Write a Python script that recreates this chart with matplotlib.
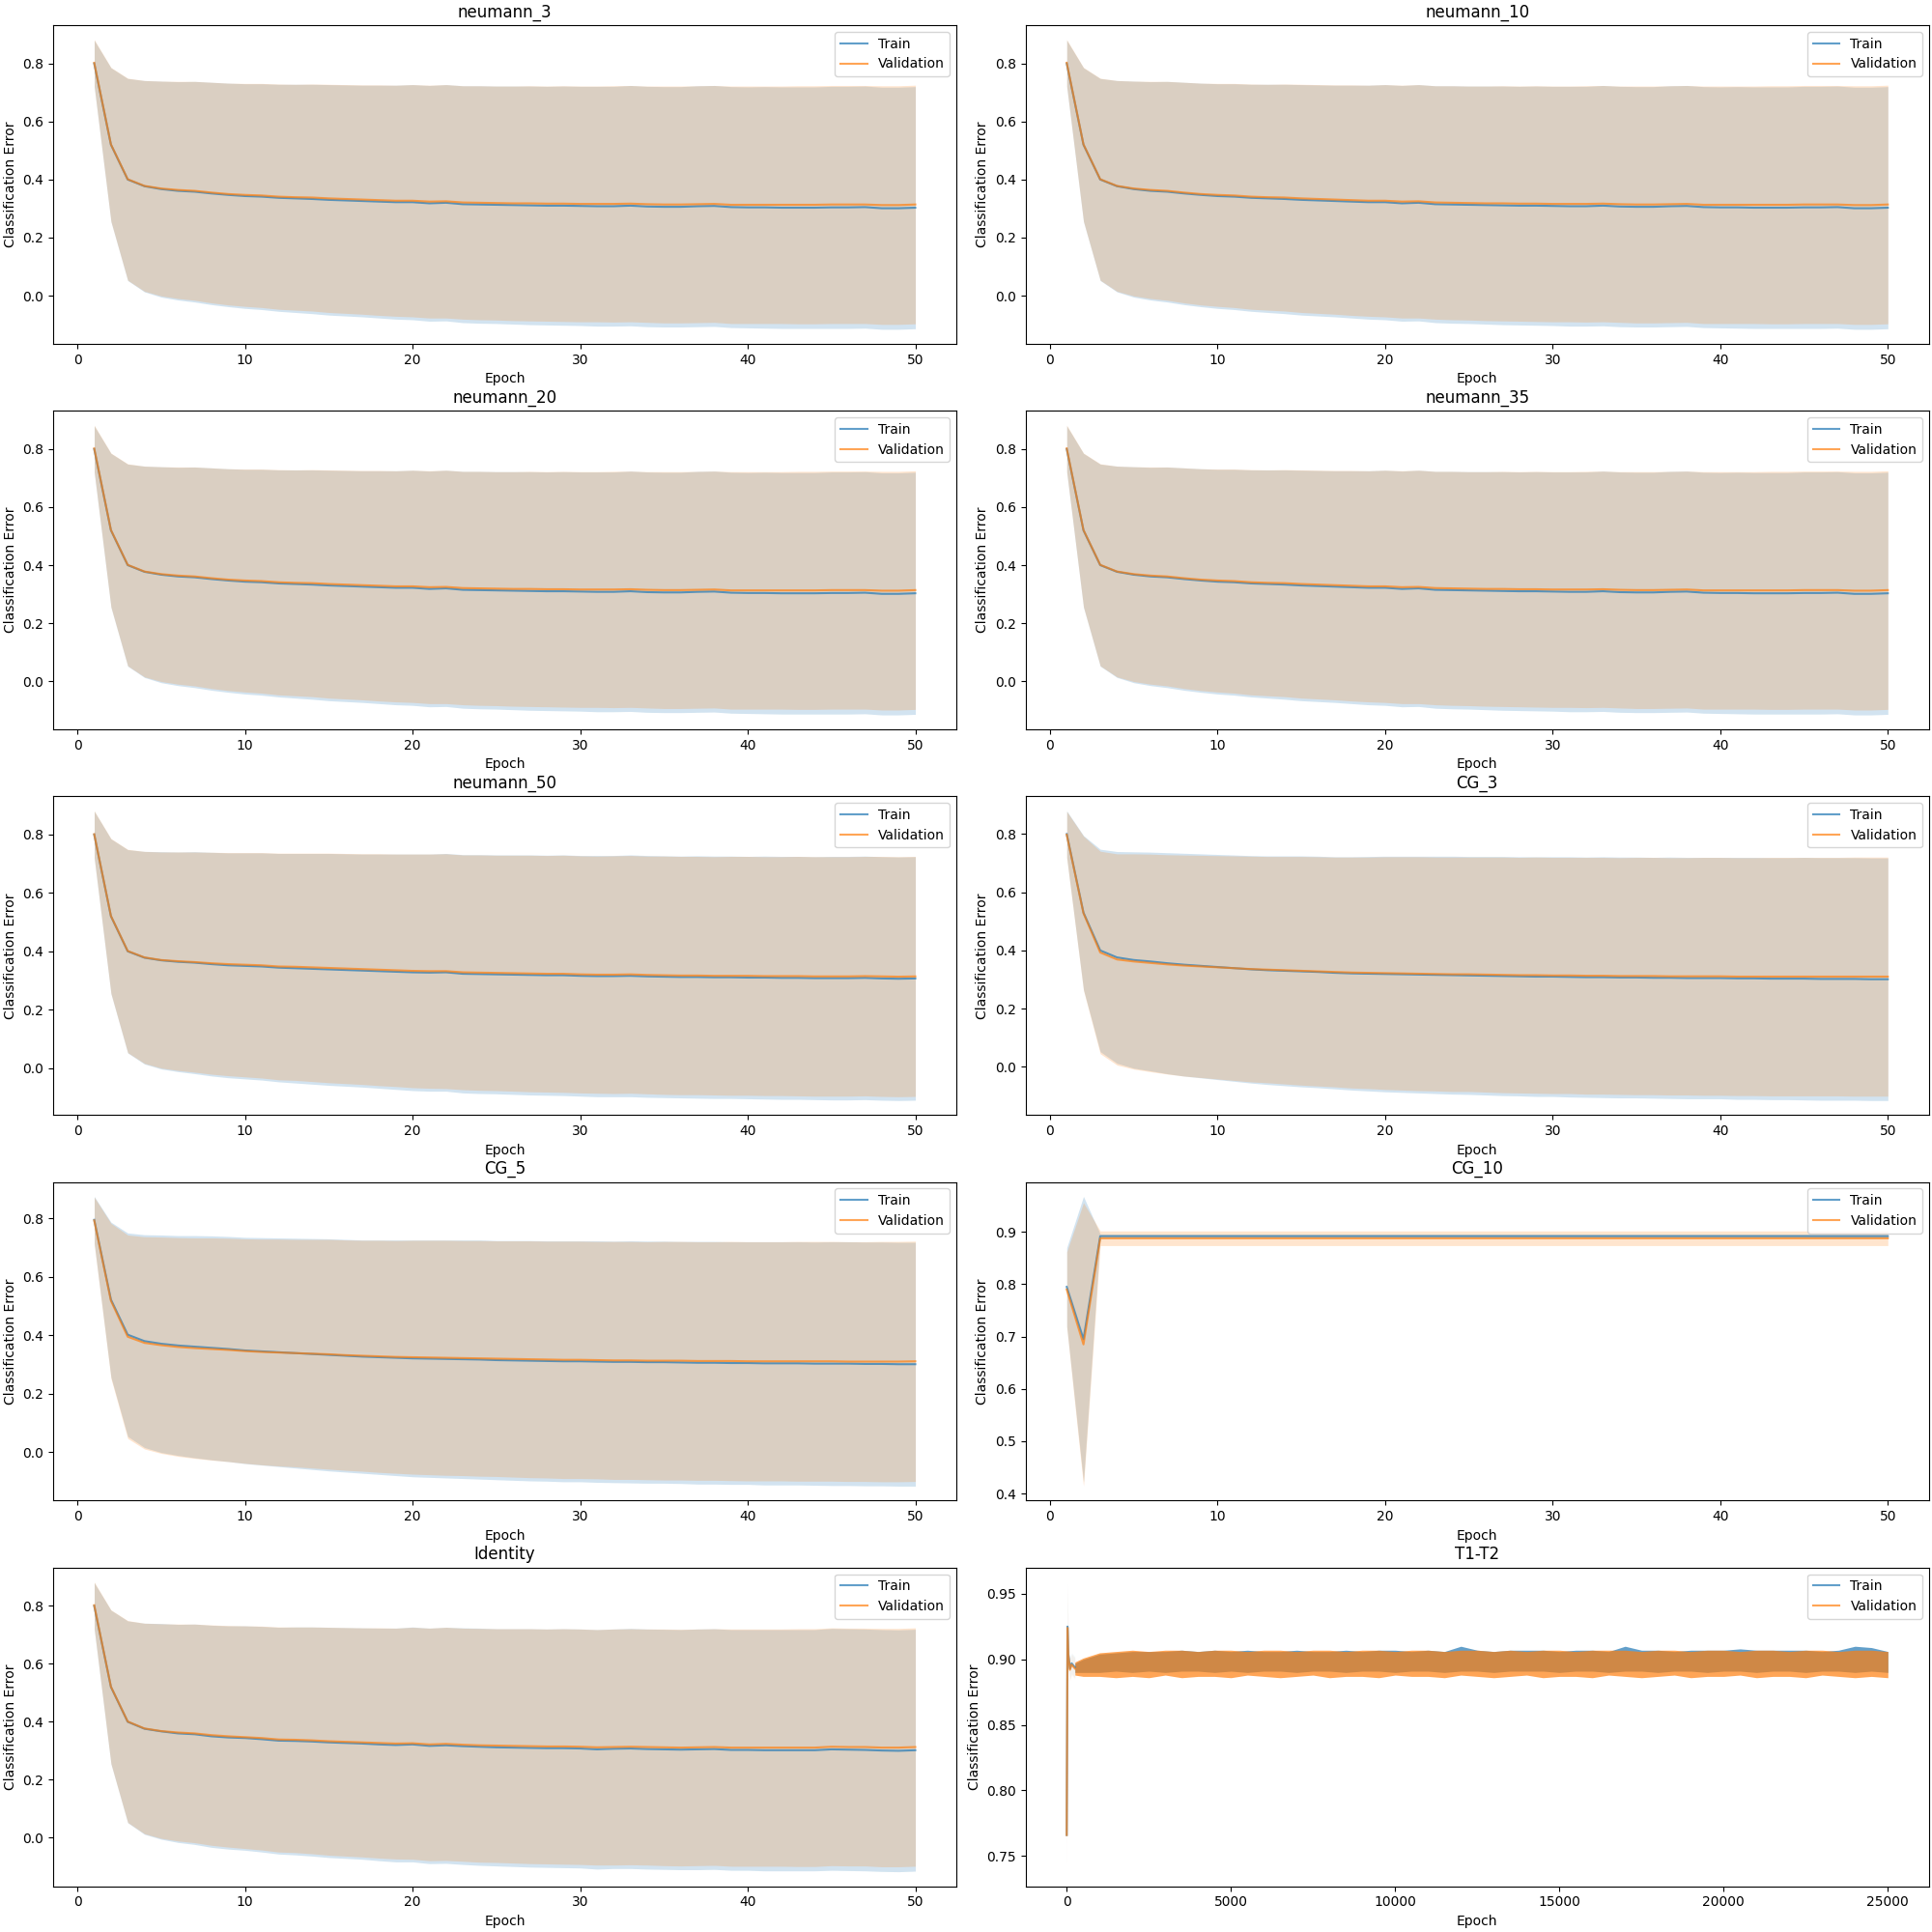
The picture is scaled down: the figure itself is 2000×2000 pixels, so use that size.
import matplotlib
matplotlib.use('Agg')
import matplotlib.pyplot as plt
import numpy as np

# epochs for the 50 epoch runs
epochs = list(range(1, 51))

# neumann_3 / neumann_10 / neumann_20 / neumann_35 look the same
neumann_train = [0.800, 0.520, 0.400, 0.377, 0.367, 0.361, 0.358, 0.352, 0.347, 0.343,
                 0.341, 0.337, 0.335, 0.333, 0.330, 0.328, 0.326, 0.324, 0.322, 0.322,
                 0.318, 0.320, 0.315, 0.314, 0.313, 0.312, 0.311, 0.310, 0.310, 0.309,
                 0.308, 0.308, 0.310, 0.307, 0.306, 0.306, 0.308, 0.309, 0.305, 0.304,
                 0.304, 0.303, 0.303, 0.303, 0.304, 0.304, 0.305, 0.301, 0.301, 0.303]
neumann_val = [0.802, 0.521, 0.401, 0.378, 0.369, 0.364, 0.361, 0.355, 0.350, 0.347,
               0.345, 0.341, 0.339, 0.338, 0.335, 0.333, 0.331, 0.329, 0.327, 0.327,
               0.324, 0.325, 0.321, 0.320, 0.319, 0.318, 0.318, 0.317, 0.317, 0.316,
               0.316, 0.316, 0.317, 0.315, 0.314, 0.314, 0.315, 0.316, 0.313, 0.313,
               0.313, 0.313, 0.313, 0.313, 0.314, 0.314, 0.314, 0.312, 0.312, 0.314]

neumann50_train = [0.800, 0.520, 0.400, 0.378, 0.369, 0.364, 0.361, 0.356, 0.352, 0.350,
                   0.348, 0.344, 0.342, 0.340, 0.338, 0.336, 0.334, 0.332, 0.330, 0.328,
                   0.327, 0.328, 0.323, 0.322, 0.321, 0.320, 0.319, 0.318, 0.318, 0.316,
                   0.315, 0.315, 0.316, 0.314, 0.313, 0.312, 0.312, 0.311, 0.311, 0.310,
                   0.310, 0.309, 0.309, 0.308, 0.308, 0.308, 0.309, 0.307, 0.306, 0.307]
neumann50_val = [0.801, 0.521, 0.401, 0.379, 0.370, 0.366, 0.363, 0.359, 0.356, 0.354,
                 0.352, 0.348, 0.347, 0.345, 0.343, 0.341, 0.339, 0.337, 0.335, 0.333,
                 0.332, 0.332, 0.328, 0.327, 0.326, 0.325, 0.324, 0.323, 0.323, 0.321,
                 0.320, 0.320, 0.321, 0.319, 0.318, 0.317, 0.317, 0.316, 0.316, 0.316,
                 0.315, 0.315, 0.315, 0.314, 0.314, 0.314, 0.315, 0.314, 0.313, 0.314]

identity_train = [0.800, 0.520, 0.400, 0.376, 0.367, 0.360, 0.357, 0.350, 0.346, 0.344,
                  0.340, 0.335, 0.334, 0.332, 0.329, 0.327, 0.325, 0.322, 0.320, 0.322,
                  0.317, 0.319, 0.316, 0.314, 0.312, 0.311, 0.310, 0.309, 0.309, 0.308,
                  0.305, 0.307, 0.308, 0.306, 0.305, 0.304, 0.305, 0.306, 0.303, 0.303,
                  0.302, 0.302, 0.302, 0.302, 0.305, 0.304, 0.303, 0.301, 0.300, 0.302]
identity_val = [0.802, 0.521, 0.401, 0.377, 0.368, 0.363, 0.360, 0.354, 0.350, 0.347,
                0.344, 0.339, 0.338, 0.336, 0.333, 0.331, 0.329, 0.327, 0.325, 0.326,
                0.322, 0.324, 0.321, 0.319, 0.318, 0.317, 0.316, 0.315, 0.315, 0.314,
                0.312, 0.313, 0.314, 0.313, 0.312, 0.311, 0.312, 0.313, 0.311, 0.311,
                0.311, 0.311, 0.311, 0.311, 0.314, 0.313, 0.313, 0.311, 0.311, 0.313]

cg3_train = [0.800, 0.530, 0.400, 0.376, 0.367, 0.362, 0.356, 0.351, 0.347, 0.343,
             0.339, 0.335, 0.332, 0.330, 0.328, 0.326, 0.323, 0.321, 0.320, 0.319,
             0.318, 0.317, 0.316, 0.315, 0.314, 0.313, 0.312, 0.311, 0.310, 0.310,
             0.309, 0.308, 0.308, 0.307, 0.307, 0.306, 0.306, 0.305, 0.305, 0.305,
             0.304, 0.304, 0.303, 0.303, 0.303, 0.302, 0.302, 0.302, 0.301, 0.301]
cg3_val = [0.798, 0.528, 0.393, 0.369, 0.362, 0.357, 0.352, 0.348, 0.345, 0.342,
           0.339, 0.336, 0.334, 0.332, 0.330, 0.328, 0.326, 0.324, 0.323, 0.322,
           0.321, 0.320, 0.319, 0.318, 0.318, 0.317, 0.316, 0.315, 0.315, 0.314,
           0.314, 0.313, 0.313, 0.312, 0.312, 0.312, 0.311, 0.311, 0.311, 0.311,
           0.310, 0.310, 0.310, 0.310, 0.310, 0.310, 0.310, 0.310, 0.310, 0.310]

cg5_train = [0.795, 0.522, 0.402, 0.380, 0.371, 0.365, 0.361, 0.357, 0.353, 0.348,
             0.345, 0.342, 0.339, 0.336, 0.333, 0.330, 0.327, 0.325, 0.323, 0.321,
             0.320, 0.319, 0.318, 0.317, 0.315, 0.314, 0.313, 0.312, 0.311, 0.311,
             0.310, 0.309, 0.309, 0.308, 0.308, 0.307, 0.306, 0.306, 0.305, 0.305,
             0.304, 0.304, 0.304, 0.303, 0.303, 0.303, 0.302, 0.302, 0.301, 0.301]
cg5_val = [0.793, 0.518, 0.395, 0.374, 0.366, 0.360, 0.356, 0.353, 0.350, 0.346,
           0.343, 0.341, 0.339, 0.337, 0.335, 0.332, 0.330, 0.328, 0.326, 0.325,
           0.324, 0.323, 0.322, 0.321, 0.320, 0.319, 0.318, 0.317, 0.316, 0.316,
           0.315, 0.314, 0.314, 0.313, 0.313, 0.313, 0.312, 0.312, 0.312, 0.311,
           0.311, 0.311, 0.311, 0.311, 0.311, 0.310, 0.310, 0.310, 0.310, 0.311]

# std over runs, shared by the neumann / CG_3 / CG_5 / Identity runs
base_train_sd = [0.080, 0.265, 0.348, 0.364, 0.372, 0.376, 0.380, 0.383, 0.385, 0.387,
                 0.389, 0.391, 0.393, 0.395, 0.397, 0.398, 0.399, 0.401, 0.403, 0.405,
                 0.406, 0.407, 0.408, 0.409, 0.409, 0.410, 0.411, 0.411, 0.412, 0.412,
                 0.413, 0.413, 0.414, 0.414, 0.414, 0.414, 0.415, 0.415, 0.415, 0.415,
                 0.416, 0.416, 0.416, 0.416, 0.417, 0.417, 0.417, 0.417, 0.417, 0.417]
base_val_sd = [0.080, 0.265, 0.348, 0.363, 0.370, 0.374, 0.377, 0.380, 0.382, 0.384,
               0.386, 0.388, 0.389, 0.391, 0.393, 0.394, 0.395, 0.397, 0.398, 0.400,
               0.401, 0.402, 0.402, 0.403, 0.403, 0.404, 0.405, 0.405, 0.406, 0.406,
               0.406, 0.407, 0.407, 0.407, 0.408, 0.408, 0.408, 0.408, 0.409, 0.409,
               0.409, 0.409, 0.410, 0.410, 0.410, 0.410, 0.410, 0.411, 0.411, 0.411]

cg10_train = [0.795, 0.695, 0.892, 0.892, 0.892, 0.892, 0.892, 0.892, 0.892, 0.892,
              0.892, 0.892, 0.892, 0.892, 0.892, 0.892, 0.892, 0.892, 0.892, 0.892,
              0.892, 0.892, 0.892, 0.892, 0.892, 0.892, 0.892, 0.892, 0.892, 0.892,
              0.892, 0.892, 0.892, 0.892, 0.892, 0.892, 0.892, 0.892, 0.892, 0.892,
              0.892, 0.892, 0.892, 0.892, 0.892, 0.892, 0.892, 0.892, 0.892, 0.892]
cg10_val = [0.790, 0.685, 0.888, 0.888, 0.888, 0.888, 0.888, 0.888, 0.888, 0.888,
            0.888, 0.888, 0.888, 0.888, 0.888, 0.888, 0.888, 0.888, 0.888, 0.888,
            0.888, 0.888, 0.888, 0.888, 0.888, 0.888, 0.888, 0.888, 0.888, 0.888,
            0.888, 0.888, 0.888, 0.888, 0.888, 0.888, 0.888, 0.888, 0.888, 0.888,
            0.888, 0.888, 0.888, 0.888, 0.888, 0.888, 0.888, 0.888, 0.888, 0.888]
cg10_train_sd = [0.075, 0.273, 0.004, 0.004, 0.004, 0.004, 0.004, 0.004, 0.004, 0.004,
                 0.004, 0.004, 0.004, 0.004, 0.004, 0.004, 0.004, 0.004, 0.004, 0.004,
                 0.004, 0.004, 0.004, 0.004, 0.004, 0.004, 0.004, 0.004, 0.004, 0.004,
                 0.004, 0.004, 0.004, 0.004, 0.004, 0.004, 0.004, 0.004, 0.004, 0.004,
                 0.004, 0.004, 0.004, 0.004, 0.004, 0.004, 0.004, 0.004, 0.004, 0.004]
cg10_val_sd = [0.072, 0.271, 0.014, 0.014, 0.014, 0.014, 0.014, 0.014, 0.014, 0.014,
               0.014, 0.014, 0.014, 0.014, 0.014, 0.014, 0.014, 0.014, 0.014, 0.014,
               0.014, 0.014, 0.014, 0.014, 0.014, 0.014, 0.014, 0.014, 0.014, 0.014,
               0.014, 0.014, 0.014, 0.014, 0.014, 0.014, 0.014, 0.014, 0.014, 0.014,
               0.014, 0.014, 0.014, 0.014, 0.014, 0.014, 0.014, 0.014, 0.014, 0.014]

# T1-T2 ran 25000 epochs: the start, then the noisy band as min/max envelopes
t1t2_start_epochs = [1, 25, 50, 100, 150, 250]
t1t2_start_train = [0.766, 0.925, 0.904, 0.893, 0.897, 0.894]
t1t2_start_val = [0.766, 0.924, 0.903, 0.892, 0.896, 0.893]
t1t2_start_sd = [0.028, 0.034, 0.012, 0.008, 0.008, 0.008]

t1t2_env_epochs = [250, 500, 1000, 1500, 2000, 2500, 3000, 3500, 4000, 4500,
                   5000, 5500, 6000, 6500, 7000, 7500, 8000, 8500, 9000, 9500,
                   10000, 10500, 11000, 11500, 12000, 12500, 13000, 13500, 14000, 14500,
                   15000, 15500, 16000, 16500, 17000, 17500, 18000, 18500, 19000, 19500,
                   20000, 20500, 21000, 21500, 22000, 22500, 23000, 23500, 24000, 24500,
                   25000]
t1t2_train_hi = [0.897, 0.900, 0.904, 0.905, 0.906, 0.906, 0.906, 0.907, 0.906, 0.907,
                 0.906, 0.907, 0.906, 0.906, 0.907, 0.906, 0.906, 0.907, 0.906, 0.907,
                 0.907, 0.906, 0.907, 0.906, 0.910, 0.907, 0.906, 0.907, 0.907, 0.907,
                 0.906, 0.907, 0.907, 0.906, 0.910, 0.907, 0.907, 0.906, 0.907, 0.907,
                 0.907, 0.908, 0.907, 0.907, 0.907, 0.907, 0.906, 0.907, 0.910, 0.909,
                 0.906]
t1t2_train_lo = [0.890, 0.890, 0.890, 0.891, 0.890, 0.891, 0.890, 0.891, 0.891, 0.890,
                 0.891, 0.890, 0.891, 0.891, 0.890, 0.891, 0.891, 0.890, 0.891, 0.891,
                 0.890, 0.891, 0.891, 0.890, 0.891, 0.891, 0.890, 0.891, 0.891, 0.891,
                 0.890, 0.891, 0.891, 0.890, 0.891, 0.891, 0.890, 0.891, 0.891, 0.890,
                 0.891, 0.891, 0.890, 0.891, 0.891, 0.890, 0.891, 0.891, 0.890, 0.891,
                 0.890]
t1t2_val_hi = [0.898, 0.901, 0.905, 0.906, 0.907, 0.906, 0.907, 0.907, 0.906, 0.907,
               0.907, 0.906, 0.907, 0.907, 0.906, 0.907, 0.907, 0.906, 0.907, 0.907,
               0.906, 0.907, 0.907, 0.906, 0.907, 0.907, 0.906, 0.907, 0.906, 0.907,
               0.907, 0.906, 0.907, 0.907, 0.907, 0.906, 0.907, 0.907, 0.906, 0.907,
               0.907, 0.906, 0.907, 0.907, 0.906, 0.907, 0.907, 0.906, 0.907, 0.907,
               0.906]
t1t2_val_lo = [0.888, 0.887, 0.887, 0.886, 0.887, 0.886, 0.888, 0.886, 0.887, 0.887,
               0.886, 0.888, 0.887, 0.886, 0.887, 0.888, 0.886, 0.887, 0.887, 0.886,
               0.888, 0.887, 0.887, 0.886, 0.888, 0.887, 0.886, 0.887, 0.888, 0.886,
               0.887, 0.887, 0.886, 0.888, 0.887, 0.886, 0.887, 0.888, 0.886, 0.887,
               0.887, 0.888, 0.886, 0.887, 0.887, 0.886, 0.888, 0.887, 0.886, 0.887,
               0.886]

# (title, train mean, val mean, train sd, val sd)
runs = [
    ('neumann_3', neumann_train, neumann_val, base_train_sd, base_val_sd),
    ('neumann_10', neumann_train, neumann_val, base_train_sd, base_val_sd),
    ('neumann_20', neumann_train, neumann_val, base_train_sd, base_val_sd),
    ('neumann_35', neumann_train, neumann_val, base_train_sd, base_val_sd),
    ('neumann_50', neumann50_train, neumann50_val, base_train_sd, base_val_sd),
    ('CG_3', cg3_train, cg3_val, base_train_sd, base_val_sd),
    ('CG_5', cg5_train, cg5_val, base_train_sd, base_val_sd),
    ('CG_10', cg10_train, cg10_val, cg10_train_sd, cg10_val_sd),
    ('Identity', identity_train, identity_val, base_train_sd, base_val_sd),
]

fig, axes = plt.subplots(5, 2, figsize=(20, 20))
plt.subplots_adjust(left=0.0275, right=0.9984, top=0.987, bottom=0.0237,
                    wspace=0.0767, hspace=0.21)
axes = axes.flatten()

for ax, (name, tr, va, tr_sd, va_sd) in zip(axes, runs):
    tr = np.array(tr)
    va = np.array(va)
    tr_sd = np.array(tr_sd)
    va_sd = np.array(va_sd)
    ax.plot(epochs, tr, color='C0', alpha=0.7, label='Train')
    ax.fill_between(epochs, tr - tr_sd, tr + tr_sd, color='C0', alpha=0.2, linewidth=0)
    ax.plot(epochs, va, color='C1', alpha=0.7, label='Validation')
    ax.fill_between(epochs, va - va_sd, va + va_sd, color='C1', alpha=0.2, linewidth=0)
    ax.set_title(name)
    ax.set_xlabel('Epoch')
    ax.set_ylabel('Classification Error')
    ax.legend(loc='upper right')

# T1-T2 panel
ax = axes[9]
st_tr = np.array(t1t2_start_train)
st_va = np.array(t1t2_start_val)
st_sd = np.array(t1t2_start_sd)
ax.fill_between(t1t2_start_epochs, st_tr - st_sd, st_tr + st_sd, color='C0', alpha=0.05, linewidth=0)
ax.fill_between(t1t2_start_epochs, st_va - st_sd, st_va + st_sd, color='C1', alpha=0.05, linewidth=0)
ax.fill_between(t1t2_env_epochs, t1t2_train_lo, t1t2_train_hi, color='C0', alpha=0.7, linewidth=0)
ax.fill_between(t1t2_env_epochs, t1t2_val_lo, t1t2_val_hi, color='C1', alpha=0.7, linewidth=0)
ax.plot(t1t2_start_epochs, t1t2_start_train, color='C0', alpha=0.7, label='Train')
ax.plot(t1t2_start_epochs, t1t2_start_val, color='C1', alpha=0.7, label='Validation')
ax.set_title('T1-T2')
ax.set_xlabel('Epoch')
ax.set_ylabel('Classification Error')
ax.legend(loc='upper right')

fig.savefig('out.png', dpi=100)
